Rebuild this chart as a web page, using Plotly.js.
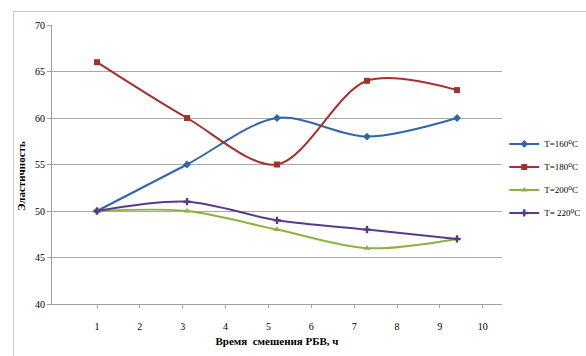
<!DOCTYPE html>
<html>
<head>
<meta charset="utf-8">
<script src="https://cdn.plot.ly/plotly-3.0.1.min.js"></script>
<style>
html,body{margin:0;padding:0;background:#fff;}
#wrap{position:relative;width:586px;height:356px;overflow:hidden;}
#chart{width:586px;height:356px;}
#frame{position:absolute;left:13px;top:11px;width:600px;height:400px;border:1px solid #c8c8c8;pointer-events:none;}
</style>
</head>
<body>
<div id="wrap"><div id="chart"></div><div id="frame"></div></div>
<script>
// Data
const xPositions = [1, 3.1, 5.2, 7.3, 9.4];
const seriesNames = ["T=160\u2070C", "T=180\u2070C", "T=200\u2070C", "T= 220\u2070C"];
const t160 = [50, 55, 60, 58, 60];
const t180 = [66, 60, 55, 64, 63];
const t200 = [50, 50, 48, 46, 47];
const t220 = [50, 51, 49, 48, 47];
const xTickVals = [1, 2, 3, 4, 5, 6, 7, 8, 9, 10];
const xTickText = ["1", "2", "3", "4", "5", "6", "7", "8", "9", "10"];
const yTickVals = [40, 45, 50, 55, 60, 65, 70];

const colors = ["#2F66AC", "#A8302C", "#8AB43C", "#5A3A8C"];
const symbols = ["diamond", "square", "triangle-up", "cross"];
const allSeries = [t160, t180, t200, t220];

const traces = allSeries.map((ys, i) => ({
  x: xPositions,
  y: ys,
  name: seriesNames[i],
  legendgroup: "g" + i,
  type: "scatter",
  mode: "lines+markers",
  line: {color: colors[i], width: 2, shape: "spline", smoothing: 0.9},
  marker: {color: colors[i], symbol: symbols[i], size: 6}
}));

const serif = "'Liberation Serif', 'DejaVu Serif', serif";
const layout = {
  width: 586, height: 356,
  margin: {l: 52, r: 84, t: 25, b: 52, autoexpand: false},
  paper_bgcolor: "#fff", plot_bgcolor: "#fff",
  showlegend: true,
  legend: {x: 1.005, xanchor: "left", y: 0.45, yanchor: "middle",
           font: {family: serif, size: 9, color: "#000"},
           traceorder: "grouped", tracegroupgap: 4,
           itemwidth: 30, bgcolor: "rgba(0,0,0,0)"},
  xaxis: {
    range: [-0.05, 10.45],
    tickvals: xTickVals, ticktext: xTickText,
    showgrid: false, zeroline: false,
    showline: true, linecolor: "#a0a0a0", linewidth: 1,
    ticks: "outside", ticklen: 3, tickcolor: "#a0a0a0",
    ticklabelstandoff: 10,
    tickfont: {family: serif, size: 10, color: "#000"},
    title: {text: "<b>Время  смешения РБВ, ч</b>", font: {family: serif, size: 11, color: "#000"}, standoff: 6}
  },
  yaxis: {
    range: [40, 70],
    tickvals: yTickVals,
    showgrid: true, gridcolor: "#a8a8a8", gridwidth: 1,
    zeroline: false,
    showline: true, linecolor: "#a0a0a0", linewidth: 1,
    ticks: "outside", ticklen: 4, tickcolor: "#a0a0a0",
    tickfont: {family: serif, size: 10, color: "#000"},
    title: {text: "", font: {family: serif, size: 11, color: "#000"}}
  },
  annotations: [{
    text: "<b>Эластичность</b>", xref: "paper", yref: "paper",
    x: -31 / 450, y: (304 - 176) / 279, xanchor: "center", yanchor: "middle",
    textangle: -90, showarrow: false,
    font: {family: serif, size: 11, color: "#000"}
  }]
};

Plotly.newPlot("chart", traces, layout, {displayModeBar: false, staticPlot: true});
</script>
</body>
</html>
